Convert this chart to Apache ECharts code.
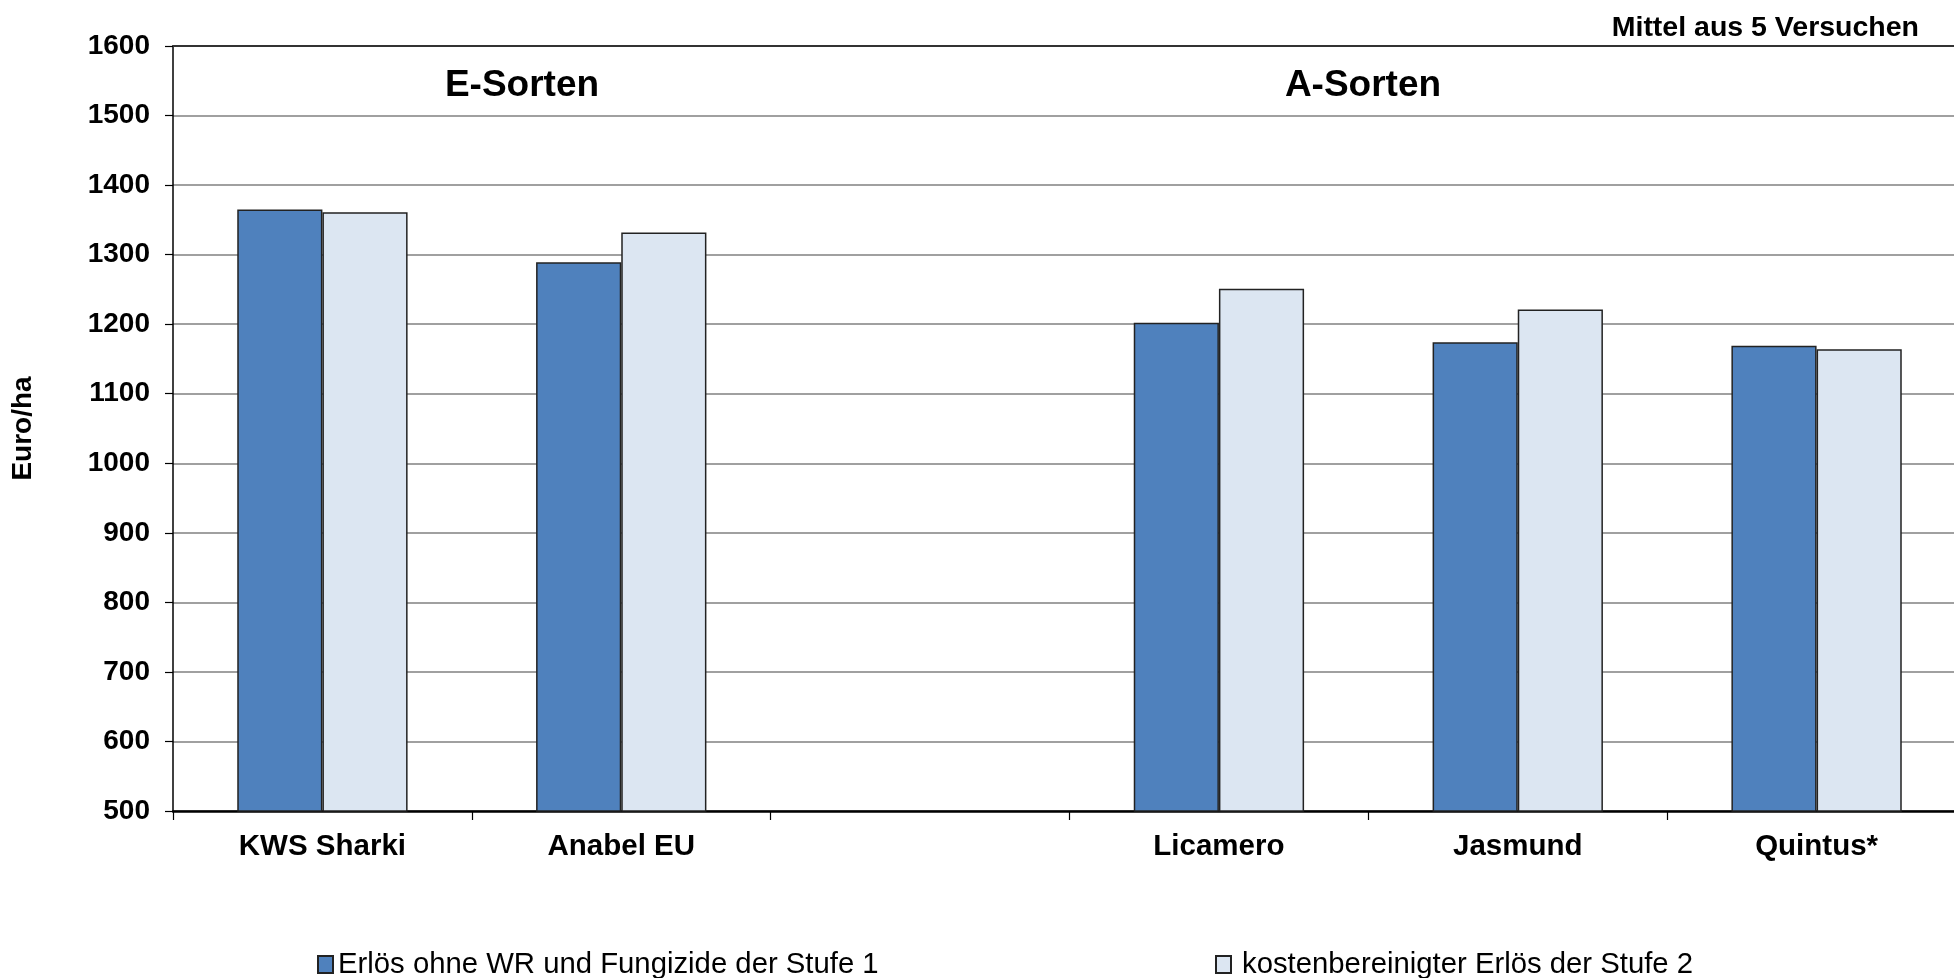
<!DOCTYPE html>
<html>
<head>
<meta charset="utf-8">
<script src="https://cdn.jsdelivr.net/npm/echarts@6/dist/echarts.min.js"></script>
<style>html,body{margin:0;padding:0;background:#fff;}#c{width:1954px;height:978px;}</style>
</head>
<body>
<div id="c"></div>
<script>
const categories = ['KWS Sharki', 'Anabel EU', '', 'Licamero', 'Jasmund', 'Quintus*'];
const stufe1 = [1365, 1289, null, 1202, 1174, 1169];
const stufe2 = [1361, 1332, null, 1251, 1221, 1164];
const seriesNames = ['Erlös ohne WR und Fungizide der Stufe 1', 'kostenbereinigter Erlös der Stufe 2'];
const yMin = 500, yMax = 1600, yStep = 100;

const FONT = "'Liberation Sans', Arial, sans-serif";
const chart = echarts.init(document.getElementById('c'), null, {renderer: 'canvas'});
chart.setOption({
  animation: false,
  backgroundColor: '#ffffff',
  textStyle: {fontFamily: FONT},
  grid: {left: 173, top: 46, bottom: 167, right: -12, containLabel: false, outerBoundsMode: 'none'},
  legend: [
    {data: [seriesNames[0]], left: 312, top: 945, itemWidth: 15, itemHeight: 17, itemGap: 0,
     icon: 'rect', textStyle: {fontSize: 29.3, color: '#000', fontFamily: FONT, padding: [0, 0, 0, 0]}},
    {data: [seriesNames[1]], left: 1210, top: 945, itemWidth: 15, itemHeight: 17, itemGap: 0,
     icon: 'rect', textStyle: {fontSize: 29.3, color: '#000', fontFamily: FONT, padding: [0, 0, 0, 6]}}
  ],
  xAxis: [{
    type: 'category',
    data: categories,
    axisLine: {lineStyle: {color: '#000', width: 2.5}},
    axisTick: {show: true, length: 9, lineStyle: {color: '#000', width: 1.2}},
    axisLabel: {fontSize: 29.5, fontWeight: 'bold', color: '#000', margin: 21, fontFamily: FONT},
    splitLine: {show: false}
  }, {
    type: 'category',
    position: 'top',
    data: categories,
    axisLine: {lineStyle: {color: '#333', width: 2}},
    axisTick: {show: false},
    axisLabel: {show: false}
  }],
  yAxis: {
    type: 'value',
    min: yMin, max: yMax, interval: yStep,
    name: 'Euro/ha',
    nameLocation: 'middle',
    nameGap: 136,
    nameRotate: 90,
    nameTextStyle: {fontSize: 28, fontWeight: 'bold', color: '#000', fontFamily: FONT},
    axisLine: {show: true, lineStyle: {color: '#000', width: 1.5}},
    axisTick: {show: true, length: 8, lineStyle: {color: '#000', width: 1.2}},
    axisLabel: {fontSize: 28, fontWeight: 'bold', color: '#000', margin: 23, fontFamily: FONT,
                formatter: function (v) { return String(v); }},
    splitLine: {lineStyle: {color: '#a0a0a0', width: 2}}
  },
  series: [{
    name: seriesNames[0],
    type: 'bar',
    data: stufe1,
    barCategoryGap: '43%',
    barGap: '0%',
    itemStyle: {color: '#4f81bd', borderColor: '#222', borderWidth: 1.5}
  }, {
    name: seriesNames[1],
    type: 'bar',
    data: stufe2,
    barCategoryGap: '43%',
    barGap: '0%',
    itemStyle: {color: '#dce6f2', borderColor: '#222', borderWidth: 1.5}
  }],
  graphic: [
    {type: 'text', x: 522, y: 86, style: {text: 'E-Sorten', fill: '#000', font: "bold 37px 'Liberation Sans', Arial, sans-serif", textAlign: 'center', textVerticalAlign: 'middle'}},
    {type: 'text', x: 1363, y: 86, style: {text: 'A-Sorten', fill: '#000', font: "bold 37px 'Liberation Sans', Arial, sans-serif", textAlign: 'center', textVerticalAlign: 'middle'}},
    {type: 'text', x: 1919, y: 28, style: {text: 'Mittel aus 5 Versuchen', fill: '#000', font: "bold 28.5px 'Liberation Sans', Arial, sans-serif", textAlign: 'right', textVerticalAlign: 'middle'}}
  ]
});
</script>
</body>
</html>
